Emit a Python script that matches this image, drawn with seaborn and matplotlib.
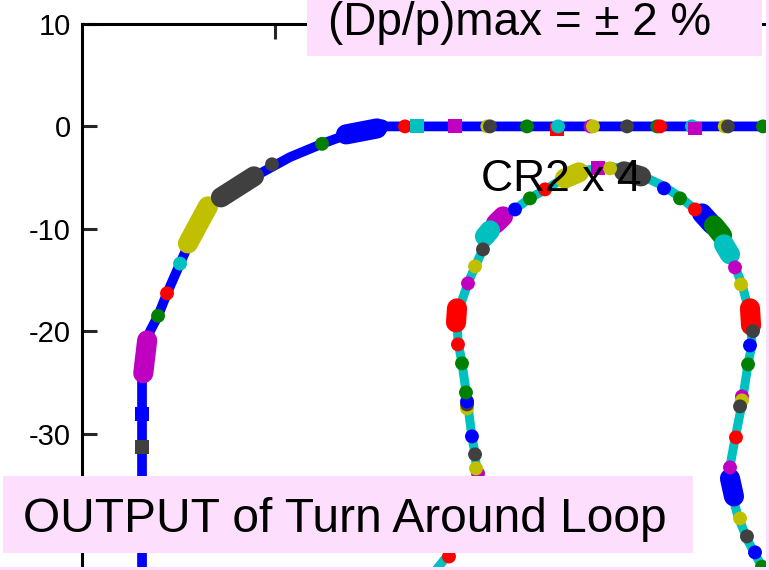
import matplotlib
matplotlib.use("Agg")
import matplotlib.pyplot as plt
import seaborn as sns
import pandas as pd
from matplotlib.patches import Rectangle

# ---------------- data (axis units) ----------------
# incoming beam line (blue)
line_x = [-13.78, -13.78, -13.47, -12.95, -12.12, -11.19, -9.84, -8.81, -6.74,
          -4.66, -1.55, 1.55, 4.87, 7.77, 11.19, 58.0]
line_y = [-55.0, -24.9, -22.0, -20.0, -18.5, -16.3, -13.4, -11.2, -7.8,
          -6.1, -4.6, -3.0, -1.7, -0.7, 0.0, 0.0]

# turn-around loop (cyan)
loop_x = [13.5, 15.03, 16.79, 18.65, 20.21, 21.04, 20.93, 20.73, 20.41, 19.90,
          19.38, 18.96, 18.86, 20.00, 20.73, 21.55, 22.28, 23.32, 24.87, 26.42,
          27.98, 29.84, 32.12, 34.72, 37.10, 40.21, 41.97, 43.52, 45.39, 46.84,
          47.67, 48.39, 49.22, 49.43, 49.02, 48.39, 47.67, 47.15, 47.25, 47.98,
          49.02, 50.47, 51.81, 53.5]
loop_y = [-47.5, -45.4, -43.2, -41.0, -38.6, -35.6, -33.9, -32.0, -30.3, -26.6,
          -23.1, -21.0, -18.4, -15.3, -13.7, -12.0, -10.4, -9.1, -8.1, -7.0,
          -6.2, -5.1, -4.3, -3.9, -4.4, -5.8, -6.9, -8.1, -10.0, -12.2,
          -13.7, -15.4, -18.4, -21.3, -23.2, -27.1, -30.5, -33.2, -35.6, -38.1,
          -40.5, -43.0, -45.4, -47.8]

# long elements (dipoles etc.) : start / end points and kind
seg_x0 = [-13.65, -9.02, -5.60, 7.36, 30.05, 36.17, 18.86, 23.63, 22.28,
          44.25, 45.49, 49.22, 47.15, 46.53]
seg_y0 = [-24.1, -11.43, -6.93, -0.78, -5.08, -4.39, -17.77, -8.79, -10.16,
          -8.50, -9.67, -17.77, -34.38, -11.52]
seg_x1 = [-13.25, -6.94, -2.18, 10.57, 31.50, 37.93, 18.76, 22.90, 21.76,
          45.28, 46.32, 49.33, 47.56, 47.15]
seg_y1 = [-20.9, -7.81, -4.88, -0.20, -4.49, -4.88, -19.14, -9.47, -10.74,
          -9.57, -10.64, -19.43, -36.13, -12.50]
seg_kind = ["magenta", "yellow", "dark", "blue", "yellow", "dark", "red",
            "magenta", "cyan", "blue", "green", "red", "blue", "cyan"]

# short elements (quadrupoles, correctors...) : position, kind, symbol
dot_x = [-12.12, -11.19, -9.84, -0.31, 4.87, -13.78, -13.78,
         11.09, 13.47, 14.72, 18.65, 22.00, 22.28, 26.11, 29.20, 29.33, 32.70,
         32.95, 36.48, 39.60, 39.90, 43.20, 43.52, 46.60, 46.94, 50.57,
         27.98, 26.42, 24.87, 21.55, 20.73, 20.00, 18.96, 19.38, 19.90, 19.90,
         19.90, 19.79, 20.41, 20.73, 21.04, 20.83, 18.03, 33.47, 34.72,
         40.31, 41.97, 43.52, 47.67, 48.29, 49.53, 49.22, 49.02, 48.39, 48.39,
         48.19, 47.77, 47.15, 48.19, 48.91, 49.74, 50.47]
dot_y = [-18.5, -16.3, -13.4, -3.7, -1.7, -28.1, -31.3,
         0.0, 0.0, 0.0, 0.0, 0.0, 0.0, 0.0, -0.3, 0.0, 0.0,
         0.0, 0.0, 0.0, 0.0, 0.0, -0.2, 0.0, 0.0, 0.0,
         -6.15, -7.03, -8.11, -12.01, -13.67, -15.33, -21.29, -23.14, -27.54, -27.15,
         -26.86, -25.98, -30.27, -32.03, -33.89, -33.40, -42.0, -4.10, -4.10,
         -6.05, -7.03, -8.11, -13.77, -15.43, -20.0, -21.39, -23.24, -26.37, -26.76,
         -27.34, -30.37, -33.30, -38.28, -40.04, -41.60, -43.0]
dot_kind = ["green", "red", "cyan", "dark", "green", "blue", "dark",
            "blue", "red", "cyan", "magenta", "yellow", "dark", "green", "red", "cyan", "magenta",
            "yellow", "dark", "green", "red", "cyan", "magenta", "yellow", "dark", "green",
            "red", "green", "blue", "dark", "yellow", "magenta", "red", "green", "yellow", "dark",
            "blue", "green", "blue", "dark", "magenta", "yellow", "red", "magenta", "yellow",
            "blue", "green", "red", "magenta", "yellow", "dark", "blue", "green", "magenta", "yellow",
            "dark", "red", "magenta", "yellow", "dark", "blue", "green"]
dot_shape = ["o", "o", "o", "o", "o", "s", "s",
             "o", "o", "s", "s", "o", "o", "o", "s", "o", "o",
             "o", "o", "o", "o", "o", "s", "o", "o", "o",
             "o", "o", "o", "o", "o", "o", "o", "o", "o", "o",
             "o", "o", "o", "o", "o", "o", "o", "s", "o",
             "o", "o", "o", "o", "o", "o", "o", "o", "o", "o",
             "o", "o", "o", "o", "o", "o", "o"]

y_ticks = [10, 0, -10, -20, -30]
x_ticks = [0, 20, 40]

title_text = "(Dp/p)max = \u00b1 2 %"
loop_text = "CR2 x 4"
bottom_text = "OUTPUT of Turn Around Loop"

# ---------------- styling ----------------
sns.set_theme(style="white")
plt.rcParams["font.family"] = ["Liberation Sans", "DejaVu Sans"]

pal = {"red": "#ff0000", "green": "#008000", "blue": "#0000ff",
       "magenta": "#c000c0", "cyan": "#00c0c0", "yellow": "#c0c000",
       "dark": "#404040"}
pink = "#fddffd"

W, H = 769, 570
fig = plt.figure(figsize=(W / 100, H / 100), dpi=100)
fig.patch.set_facecolor("white")

# axes: left spine at px 82, top spine at px 24, extends beyond right/bottom
xlim = (-20, 60)
ylim = (-50, 10)
sx, sy = 9.65, 10.24
left_px, top_px = 82, 24
w_px = (xlim[1] - xlim[0]) * sx
h_px = (ylim[1] - ylim[0]) * sy
ax = fig.add_axes([left_px / W, 1 - (top_px + h_px) / H, w_px / W, h_px / H])
ax.set_xlim(*xlim)
ax.set_ylim(*ylim)
ax.set_facecolor("white")

# beam lines
sns.lineplot(x=line_x, y=line_y, sort=False, estimator=None, color=pal["blue"],
             linewidth=7, ax=ax, zorder=2, solid_capstyle="butt")
sns.lineplot(x=loop_x, y=loop_y, sort=False, estimator=None, color=pal["cyan"],
             linewidth=6.5, ax=ax, zorder=2, solid_capstyle="butt")

# long elements
rows = []
for i in range(len(seg_kind)):
    rows.append({"x": seg_x0[i], "y": seg_y0[i], "seg": i, "kind": seg_kind[i]})
    rows.append({"x": seg_x1[i], "y": seg_y1[i], "seg": i, "kind": seg_kind[i]})
seg_df = pd.DataFrame(rows)
for i in range(len(seg_kind)):
    sub = seg_df[seg_df["seg"] == i]
    sns.lineplot(data=sub, x="x", y="y", sort=False, estimator=None,
                 color=pal[seg_kind[i]], linewidth=14.5, solid_capstyle="round",
                 ax=ax, zorder=3, legend=False)

# short elements
dot_df = pd.DataFrame({"x": dot_x, "y": dot_y, "kind": dot_kind, "shape": dot_shape})
sns.scatterplot(data=dot_df, x="x", y="y", hue="kind", style="shape",
                markers={"o": "o", "s": "s"}, palette=pal, s=100, linewidth=0,
                legend=False, ax=ax, zorder=4)

ax.text(21.35, -6.35, loop_text, fontsize=32, color="black",
        ha="left", va="baseline", zorder=6)

# axes styling (gnuplot-like)
for side in ["left", "top"]:
    ax.spines[side].set_visible(True)
    ax.spines[side].set_color("black")
    ax.spines[side].set_linewidth(2.2)
for side in ["right", "bottom"]:
    ax.spines[side].set_visible(False)
ax.set_yticks(y_ticks)
ax.set_yticklabels([str(v) for v in y_ticks])
ax.set_xticks(x_ticks)
ax.xaxis.set_ticks_position("top")
ax.tick_params(axis="x", direction="in", length=11, width=2.2, labeltop=False,
               labelbottom=False, top=True, bottom=False)
ax.tick_params(axis="y", direction="in", length=11, width=2.2, left=True,
               right=False, labelsize=21, pad=8, labelcolor="black")
ax.set_xlabel("")
ax.set_ylabel("")
ax.grid(False)


def px_rect(x, y, w, h, color):
    fig.patches.append(Rectangle((x / W, 1 - (y + h) / H), w / W, h / H,
                                 transform=fig.transFigure, facecolor=color,
                                 edgecolor="none", zorder=5))


px_rect(307, 0, 455, 56, pink)
px_rect(3, 476, 690, 77, pink)
px_rect(766, 0, 3, 570, pink)
px_rect(0, 567, 769, 3, pink)

fig.text(328 / W, 1 - 35 / H, title_text, fontsize=33, color="black",
         ha="left", va="baseline", zorder=6)
fig.text(23 / W, 1 - 532 / H, bottom_text, fontsize=34.5, color="black",
         ha="left", va="baseline", zorder=6)

fig.savefig("out.png", dpi=100, facecolor="white")
